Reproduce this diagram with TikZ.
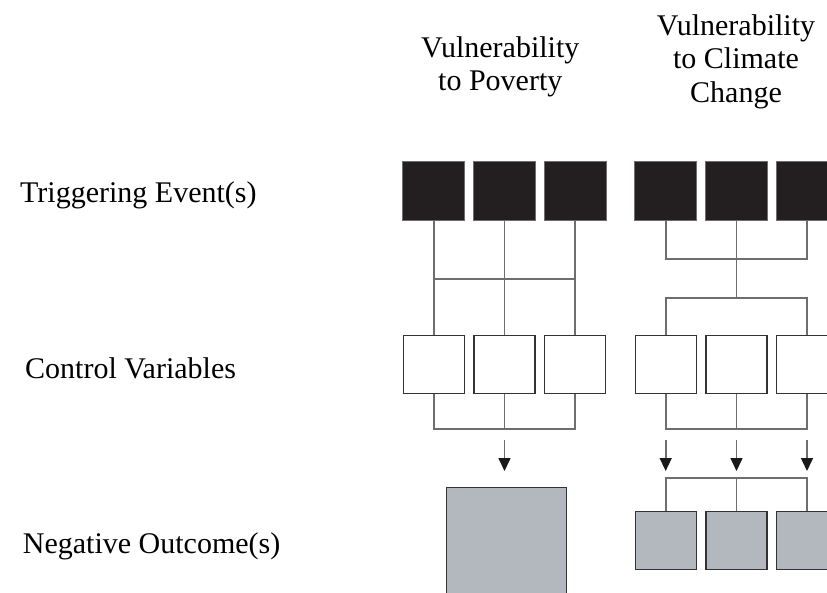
\documentclass[tikz,border=0pt]{standalone}
\usepackage{fontspec}
\setmainfont{Liberation Serif}
\usepackage{tikz}
\usetikzlibrary{arrows.meta}
\definecolor{trigfill}{HTML}{231F20}
\definecolor{outfill}{HTML}{B3B8BF}
\definecolor{wiregray}{HTML}{6E6E6E}

\tikzset{
    trig/.style={draw=wiregray, fill=trigfill, line width=1pt, minimum width=62pt, minimum height=59pt, inner sep=0pt},
    ctrl/.style={draw=black!80, fill=white, line width=1.3pt, minimum width=61pt, minimum height=58pt, inner sep=0pt},
    outc/.style={draw=black!80, fill=outfill, line width=1.3pt, minimum width=61pt, minimum height=58pt, inner sep=0pt},
    wire/.style={draw=wiregray, line width=1.8pt},
    arr/.style={draw=wiregray, line width=1.6pt, -{Triangle[width=12pt,length=13pt,color=black!90]}},
    lab/.style={font=\fontsize{30}{33.3}\selectfont, inner sep=0pt}
}

\begin{document}
\begin{tikzpicture}[x=1pt, y=-1pt]
            \useasboundingbox (0,0) rectangle (827,593);
            \clip (0,0) rectangle (827,593);

            % row labels
            \node[lab, anchor=base west] (lbtrig) at (20,203) {Triggering Event(s)};
            \node[lab, anchor=base west] (lbctrl) at (25,378.3) {Control Variables};
            \node[lab, anchor=base west] (lbout) at (22.7,553.3) {Negative Outcome(s)};

            % column headings
            \node[lab, anchor=north, align=center] (hpov) at (500.3,36.2) {Vulnerability\\to Poverty};
            \node[lab, anchor=north, align=center] (hclim) at (736,14.5) {Vulnerability\\to Climate\\Change};

            % vulnerability to poverty
            \foreach \i/\x in {1/433.7, 2/504.5, 3/575} {
                \node[trig] (pt\i) at (\x,191.5) {};
                \node[ctrl] (pc\i) at (\x,364.2) {};
            }
            \node[outc, minimum width=120pt, minimum height=120pt] (po) at (506.7,547.3) {};

            \coordinate (pbar) at (504.5,278.7);
            \coordinate (pjoin) at (504.5,429);
            \coordinate (pa1) at (504.5,440);
            \coordinate (pa2) at (504.5,471);
            \foreach \i in {1,2,3}
                \draw[wire] (pt\i.south) -- (pc\i.north);
            \draw[wire] (pt1.south |- pbar) -- (pt3.south |- pbar);
            \draw[wire] (pc1.south) |- (pjoin) -| (pc3.south);
            \draw[wire] (pc2.south) -- (pjoin);
            \draw[arr] (pa1) -- (pa2);

            % vulnerability to climate change
            \foreach \i/\x in {1/665.7, 2/736.5, 3/807} {
                \node[trig] (ct\i) at (\x,191.5) {};
                \node[ctrl] (cc\i) at (\x,364.2) {};
                \node[outc] (co\i) at (\x,540.8) {};
                \coordinate (ca\i) at (\x,440);
                \coordinate (cb\i) at (\x,471);
                \draw[arr] (ca\i) -- (cb\i);
            }

            \coordinate (cbar) at (736.5,259);
            \coordinate (cmid) at (736.5,298);
            \coordinate (cjoin) at (736.5,429);
            \coordinate (ojoin) at (736.5,477.7);
            \draw[wire] (ct1.south) |- (cbar) -| (ct3.south);
            \draw[wire] (ct2.south) -- (cmid);
            \draw[wire] (cc1.north) |- (cmid) -| (cc3.north);
            \draw[wire] (cc1.south) |- (cjoin) -| (cc3.south);
            \draw[wire] (cc2.south) -- (cjoin);
            \draw[wire] (co1.north) |- (ojoin) -| (co3.north);
            \draw[wire] (co2.north) -- (ojoin);
        \end{tikzpicture}
\end{document}
